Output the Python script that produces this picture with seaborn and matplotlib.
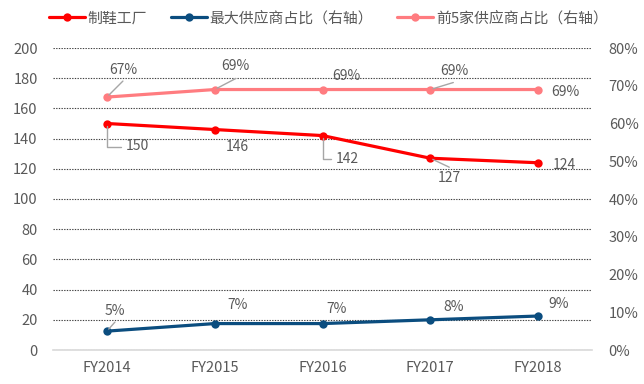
import numpy as np
import pandas as pd
import seaborn as sns
from matplotlib import pyplot as plt

years = ['FY2014', 'FY2015', 'FY2016', 'FY2017', 'FY2018']
factories = [150, 146, 142, 127, 124]          # 制鞋工厂 (左轴)
top1_share = [5, 7, 7, 8, 9]                   # 最大供应商占比 % (右轴)
top5_share = [67, 69, 69, 69, 69]              # 前5家供应商占比 % (右轴)

names = ['制鞋工厂', '最大供应商占比（右轴）', '前5家供应商占比（右轴）']

sns.set_style('white')
plt.rcParams['font.family'] = ['Noto Sans CJK SC', 'DejaVu Sans']

grey = '#595959'
red, navy, pink = '#FF0000', '#0B4D7F', '#FF7C80'

fig = plt.figure(figsize=(6.44, 3.84), dpi=100)
ax = fig.add_axes([53 / 644, 34 / 384, 539 / 644, 302 / 384])
ax2 = ax.twinx()

df = pd.DataFrame({'year': years, 'f': factories, 't1': top1_share, 't5': top5_share})

sns.lineplot(data=df, x='year', y='f', ax=ax, color=red, lw=2.3, marker='o',
             markersize=6, markeredgewidth=0, label=names[0], sort=False)
sns.lineplot(data=df, x='year', y='t1', ax=ax2, color=navy, lw=2.3, marker='o',
             markersize=6, markeredgewidth=0, label=names[1], sort=False)
sns.lineplot(data=df, x='year', y='t5', ax=ax2, color=pink, lw=2.3, marker='o',
             markersize=6, markeredgewidth=0, label=names[2], sort=False)
for a in (ax, ax2):
    if a.get_legend() is not None:
        a.get_legend().remove()

ax.set_xlim(-0.5, 4.5)
ax.set_ylim(0, 200)
ax.set_yticks(np.arange(0, 201, 20))
ax2.set_ylim(0, 80)
ax2.set_yticks(np.arange(0, 81, 10))
ax2.set_yticklabels([f'{v}%' for v in range(0, 81, 10)])
ax.set_xlabel('')
ax.set_ylabel('')
ax2.set_ylabel('')

ax.grid(axis='y', color='#404040', linestyle=(0, (1.2, 1.2)), lw=0.8)
ax.set_axisbelow(True)
for a in (ax, ax2):
    for s in a.spines.values():
        s.set_visible(False)
ax.spines['bottom'].set_visible(True)
ax.spines['bottom'].set_color('#D9D9D9')
ax.spines['bottom'].set_linewidth(1.2)

ax.tick_params(axis='both', length=0, colors=grey, labelsize=10.5)
ax.tick_params(axis='y', pad=11)
ax.tick_params(axis='x', pad=8)
ax2.tick_params(axis='y', length=0, colors=grey, labelsize=10.5, pad=12)

leader = '#A6A6A6'


def label(a, i, v, text, off, end=None, elbow=False):
    # end: pixel offset of the straight leader line's far end
    if end is not None:
        a.annotate('', xy=(i, v), xytext=end, textcoords='offset pixels',
                   arrowprops=dict(arrowstyle='-', color=leader, lw=1.0,
                                   patchA=None, shrinkA=0, shrinkB=2))
    arrow = None
    if elbow:
        arrow = dict(arrowstyle='-', color=leader, lw=1.0, shrinkA=1, shrinkB=2,
                     connectionstyle='angle,angleA=0,angleB=90,rad=0')
    a.annotate(text, xy=(i, v), xytext=off, textcoords='offset pixels',
               ha='center', va='center', fontsize=10, color=grey,
               arrowprops=arrow)

# 前5家供应商占比
offs5 = [(16, 27), (21, 24), (24, 14), (24, 19), (27, -2)]
ends5 = [(16, 16), (21, 11), None, (23, 7), None]
for i, v in enumerate(top5_share):
    label(ax2, i, v, f'{v}%', offs5[i], ends5[i])

# 制鞋工厂
offsf = [(30, -23), (23, -17), (25, -23), (19, -20), (26, -2)]
endsf = [None, None, None, (19, -9), None]
elbf = [True, False, True, False, False]
for i, v in enumerate(factories):
    label(ax, i, v, f'{v}', offsf[i], endsf[i], elbf[i])

# 最大供应商占比
offs1 = [(8, 20), (23, 19), (14, 15), (23, 13), (21, 12)]
ends1 = [(8, 9), None, None, None, None]
for i, v in enumerate(top1_share):
    label(ax2, i, v, f'{v}%', offs1[i], ends1[i])

handles = ax.get_lines()[:1] + ax2.get_lines()[:2]
fig.legend(handles, names, loc='center', bbox_to_anchor=(0.51, 0.953), ncol=3,
           frameon=False, fontsize=10.7, handlelength=2.4, columnspacing=1.6,
           handletextpad=0.2, labelcolor=grey)

fig.savefig('out.png', dpi=100)
